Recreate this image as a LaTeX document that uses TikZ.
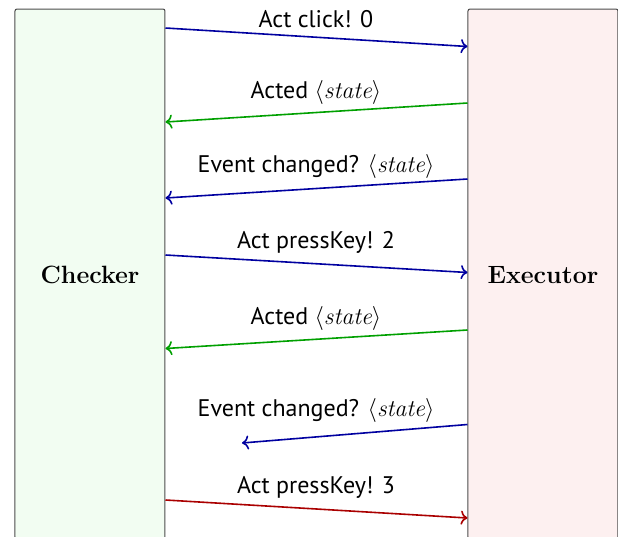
\documentclass[tikz,border=0pt]{standalone}
\usepackage{fontspec}
\newfontfamily\msgfont{PT Sans}
\usetikzlibrary{arrows.meta}
\definecolor{chkgreen}{RGB}{242,253,242}
\definecolor{exepink}{RGB}{253,240,240}
\definecolor{msgblue}{RGB}{0,0,160}
\definecolor{msggreen}{RGB}{0,160,0}
\definecolor{msgred}{RGB}{170,0,0}

\begin{document}
\begin{tikzpicture}[
    x=0.5pt, y=-0.5pt,
    actor/.style={draw=black!70, line width=0.5pt, rounded corners=1pt, inner sep=0pt,
      minimum width=75pt, minimum height=265pt},
    who/.style={font=\fontsize{12.5}{15}\selectfont\bfseries, anchor=base},
    msg/.style={font=\msgfont\fontsize{12}{14}\selectfont, anchor=base},
    call/.style={->, line width=0.8pt}
  ]
  \useasboundingbox (0,0) rectangle (618,537);
  \clip (0,0) rectangle (618,537);

  % the two parties
  \node[actor, fill=chkgreen] (checker) at (90,274) {};
  \node[actor, fill=exepink] (executor) at (543,274) {};
  \node[who] (checkername) at (90,283) {Checker};
  \node[who] (executorname) at (543,283) {Executor};

  % messages, top to bottom
  \node[msg] (m1) at (316,27) {Act click! 0};
  \draw[call, msgblue] (checker.east |- 0,28) -- (executor.west |- 0,46.5);

  \node[msg] (m2) at (316,98) {Acted $\langle\mathit{state}\rangle$};
  \draw[call, msggreen] (executor.west |- 0,103) -- (checker.east |- 0,122);

  \node[msg] (m3) at (316,172) {Event changed? $\langle\mathit{state}\rangle$};
  \draw[call, msgblue] (executor.west |- 0,179) -- (checker.east |- 0,198);

  \node[msg] (m4) at (316,248) {Act pressKey! 2};
  \draw[call, msgblue] (checker.east |- 0,255) -- (executor.west |- 0,272.5);

  \node[msg] (m5) at (316,324) {Acted $\langle\mathit{state}\rangle$};
  \draw[call, msggreen] (executor.west |- 0,330) -- (checker.east |- 0,348.5);

  \node[msg] (m6) at (316,416.5) {Event changed? $\langle\mathit{state}\rangle$};
  \coordinate (eventend) at (242,443);
  \draw[call, msgblue] (executor.west |- 0,424.5) -- (eventend);

  \node[msg] (m7) at (316,493) {Act pressKey! 3};
  \draw[call, msgred] (checker.east |- 0,500) -- (executor.west |- 0,518);
\end{tikzpicture}
\end{document}
